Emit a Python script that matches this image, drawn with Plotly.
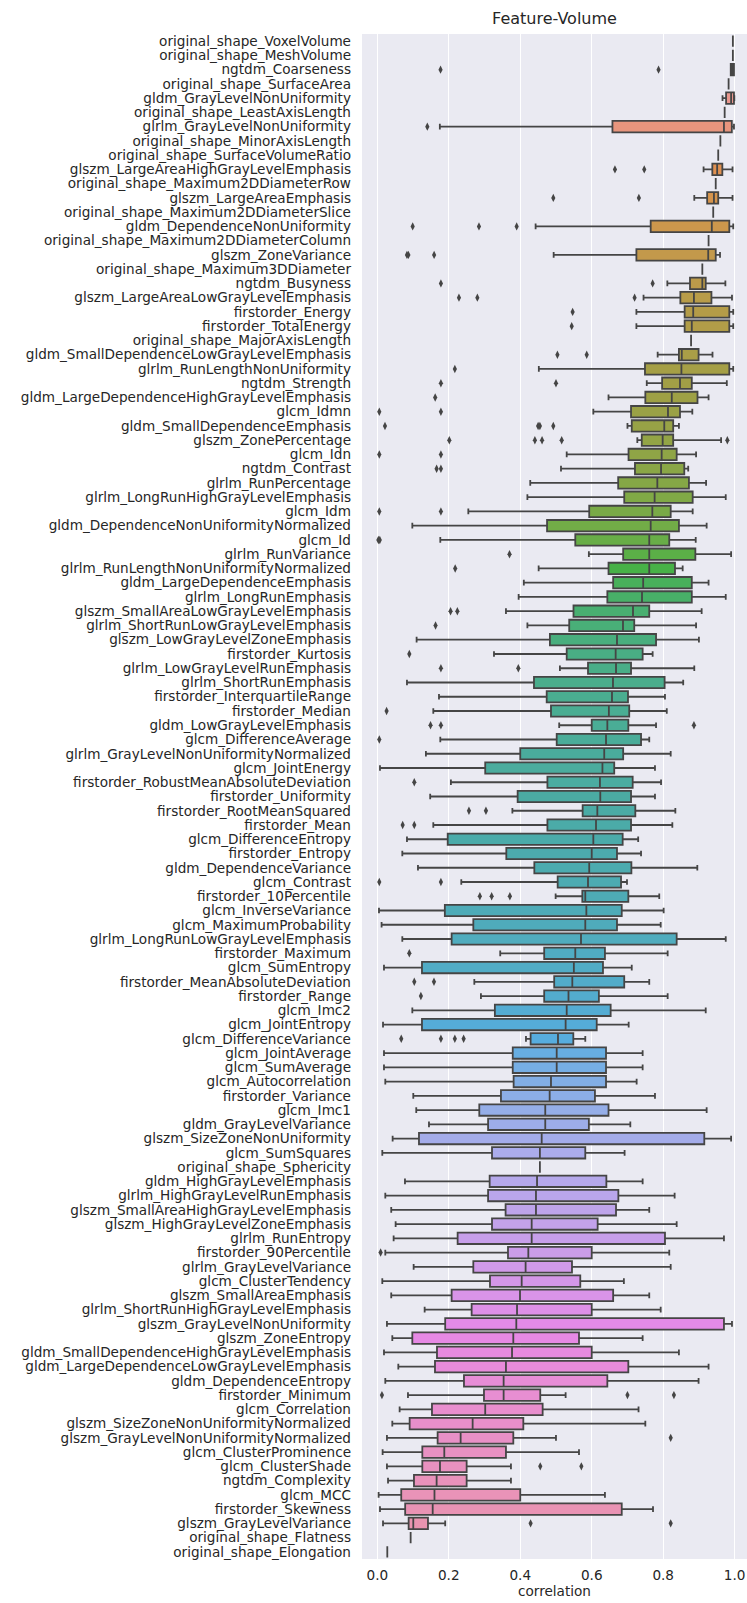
import math
import colorsys
import plotly.graph_objects as go

features = [
    "original_shape_VoxelVolume", "original_shape_MeshVolume", "ngtdm_Coarseness",
    "original_shape_SurfaceArea", "gldm_GrayLevelNonUniformity", "original_shape_LeastAxisLength",
    "glrlm_GrayLevelNonUniformity", "original_shape_MinorAxisLength", "original_shape_SurfaceVolumeRatio",
    "glszm_LargeAreaHighGrayLevelEmphasis", "original_shape_Maximum2DDiameterRow", "glszm_LargeAreaEmphasis",
    "original_shape_Maximum2DDiameterSlice", "gldm_DependenceNonUniformity", "original_shape_Maximum2DDiameterColumn",
    "glszm_ZoneVariance", "original_shape_Maximum3DDiameter", "ngtdm_Busyness",
    "glszm_LargeAreaLowGrayLevelEmphasis", "firstorder_Energy", "firstorder_TotalEnergy",
    "original_shape_MajorAxisLength", "gldm_SmallDependenceLowGrayLevelEmphasis", "glrlm_RunLengthNonUniformity",
    "ngtdm_Strength", "gldm_LargeDependenceHighGrayLevelEmphasis", "glcm_Idmn",
    "gldm_SmallDependenceEmphasis", "glszm_ZonePercentage", "glcm_Idn",
    "ngtdm_Contrast", "glrlm_RunPercentage", "glrlm_LongRunHighGrayLevelEmphasis",
    "glcm_Idm", "gldm_DependenceNonUniformityNormalized", "glcm_Id",
    "glrlm_RunVariance", "glrlm_RunLengthNonUniformityNormalized", "gldm_LargeDependenceEmphasis",
    "glrlm_LongRunEmphasis", "glszm_SmallAreaLowGrayLevelEmphasis", "glrlm_ShortRunLowGrayLevelEmphasis",
    "glszm_LowGrayLevelZoneEmphasis", "firstorder_Kurtosis", "glrlm_LowGrayLevelRunEmphasis",
    "glrlm_ShortRunEmphasis", "firstorder_InterquartileRange", "firstorder_Median",
    "gldm_LowGrayLevelEmphasis", "glcm_DifferenceAverage", "glrlm_GrayLevelNonUniformityNormalized",
    "glcm_JointEnergy", "firstorder_RobustMeanAbsoluteDeviation", "firstorder_Uniformity",
    "firstorder_RootMeanSquared", "firstorder_Mean", "glcm_DifferenceEntropy",
    "firstorder_Entropy", "gldm_DependenceVariance", "glcm_Contrast",
    "firstorder_10Percentile", "glcm_InverseVariance", "glcm_MaximumProbability",
    "glrlm_LongRunLowGrayLevelEmphasis", "firstorder_Maximum", "glcm_SumEntropy",
    "firstorder_MeanAbsoluteDeviation", "firstorder_Range", "glcm_Imc2",
    "glcm_JointEntropy", "glcm_DifferenceVariance", "glcm_JointAverage",
    "glcm_SumAverage", "glcm_Autocorrelation", "firstorder_Variance",
    "glcm_Imc1", "gldm_GrayLevelVariance", "glszm_SizeZoneNonUniformity",
    "glcm_SumSquares", "original_shape_Sphericity", "gldm_HighGrayLevelEmphasis",
    "glrlm_HighGrayLevelRunEmphasis", "glszm_SmallAreaHighGrayLevelEmphasis", "glszm_HighGrayLevelZoneEmphasis",
    "glrlm_RunEntropy", "firstorder_90Percentile", "glrlm_GrayLevelVariance",
    "glcm_ClusterTendency", "glszm_SmallAreaEmphasis", "glrlm_ShortRunHighGrayLevelEmphasis",
    "glszm_GrayLevelNonUniformity", "glszm_ZoneEntropy", "gldm_SmallDependenceHighGrayLevelEmphasis",
    "gldm_LargeDependenceLowGrayLevelEmphasis", "gldm_DependenceEntropy", "firstorder_Minimum",
    "glcm_Correlation", "glszm_SizeZoneNonUniformityNormalized", "glszm_GrayLevelNonUniformityNormalized",
    "glcm_ClusterProminence", "glcm_ClusterShade", "ngtdm_Complexity",
    "glcm_MCC", "firstorder_Skewness", "glszm_GrayLevelVariance",
    "original_shape_Flatness", "original_shape_Elongation",
]

lower_whisker = [
    0.995, 0.995, 0.989, 0.983, 0.966, 0.972, 0.175, 0.960, 0.954, 0.913,
    0.947, 0.887, 0.940, 0.443, 0.927, 0.4935, 0.9095, 0.8116, 0.745, 0.725,
    0.725, 0.878, 0.7845, 0.452, 0.754, 0.647, 0.6045, 0.700, 0.7276, 0.530,
    0.514, 0.428, 0.420, 0.2547, 0.098, 0.1763, 0.592, 0.4515, 0.410, 0.3955,
    0.360, 0.420, 0.110, 0.3265, 0.511, 0.083, 0.1726, 0.1567, 0.509, 0.1763,
    0.136, 0.0075, 0.206, 0.148, 0.378, 0.1567, 0.083, 0.070, 0.1138, 0.235,
    0.499, 0.0047, 0.012, 0.070, 0.344, 0.0187, 0.2715, 0.290, 0.098, 0.016,
    0.416, 0.0187, 0.0187, 0.0224, 0.1007, 0.109, 0.1446, 0.0429, 0.014, 0.455,
    0.0774, 0.0224, 0.039, 0.0513, 0.0457, 0.0224, 0.1017, 0.014, 0.039, 0.1325,
    0.027, 0.042, 0.0187, 0.0588, 0.0224, 0.0858, 0.0625, 0.042, 0.027, 0.0149,
    0.027, 0.030, 0.0037, 0.0075, 0.016, 0.0933, 0.028,
]

q1_vals = [
    0.995, 0.995, 0.989, 0.983, 0.976, 0.972, 0.658, 0.960, 0.954, 0.9375,
    0.947, 0.923, 0.940, 0.765, 0.927, 0.725, 0.9095, 0.875, 0.848, 0.860,
    0.860, 0.878, 0.844, 0.749, 0.797, 0.750, 0.710, 0.712, 0.740, 0.703,
    0.721, 0.674, 0.691, 0.593, 0.475, 0.554, 0.688, 0.647, 0.660, 0.6437,
    0.549, 0.537, 0.483, 0.530, 0.5896, 0.4384, 0.474, 0.486, 0.600, 0.502,
    0.400, 0.302, 0.476, 0.3927, 0.5746, 0.476, 0.197, 0.361, 0.4394, 0.5047,
    0.5737, 0.189, 0.2687, 0.208, 0.467, 0.125, 0.495, 0.467, 0.329, 0.125,
    0.429, 0.379, 0.379, 0.3815, 0.346, 0.2854, 0.310, 0.1166, 0.321, 0.455,
    0.3144, 0.310, 0.359, 0.321, 0.2248, 0.3657, 0.2687, 0.3153, 0.208, 0.264,
    0.190, 0.098, 0.167, 0.1614, 0.2425, 0.2985, 0.153, 0.0905, 0.1688, 0.126,
    0.126, 0.1026, 0.067, 0.078, 0.0877, 0.0933, 0.028,
]

median_vals = [
    0.995, 0.995, 0.994, 0.983, 0.990, 0.972, 0.970, 0.960, 0.954, 0.951,
    0.947, 0.942, 0.940, 0.936, 0.927, 0.926, 0.9095, 0.9095, 0.886, 0.884,
    0.880, 0.878, 0.852, 0.851, 0.847, 0.824, 0.8134, 0.803, 0.7985, 0.7957,
    0.794, 0.7836, 0.776, 0.7696, 0.765, 0.761, 0.761, 0.761, 0.744, 0.7407,
    0.7155, 0.6875, 0.6707, 0.667, 0.668, 0.6595, 0.6567, 0.648, 0.6437, 0.640,
    0.635, 0.630, 0.623, 0.624, 0.6157, 0.612, 0.6045, 0.600, 0.593, 0.5896,
    0.582, 0.585, 0.582, 0.570, 0.554, 0.550, 0.5457, 0.535, 0.530, 0.527,
    0.5056, 0.502, 0.502, 0.486, 0.4823, 0.470, 0.470, 0.460, 0.455, 0.455,
    0.447, 0.444, 0.444, 0.432, 0.432, 0.4226, 0.415, 0.404, 0.3993, 0.391,
    0.389, 0.3806, 0.377, 0.360, 0.3535, 0.3535, 0.302, 0.2668, 0.2332, 0.1875,
    0.1754, 0.166, 0.160, 0.155, 0.1007, 0.0933, 0.028,
]

q3_vals = [
    0.995, 0.995, 0.998, 0.983, 0.998, 0.972, 0.992, 0.960, 0.954, 0.9655,
    0.947, 0.954, 0.940, 0.985, 0.927, 0.947, 0.9095, 0.919, 0.935, 0.985,
    0.985, 0.878, 0.899, 0.985, 0.880, 0.896, 0.847, 0.828, 0.828, 0.8377,
    0.859, 0.872, 0.8825, 0.821, 0.844, 0.817, 0.890, 0.833, 0.880, 0.880,
    0.761, 0.719, 0.780, 0.7425, 0.710, 0.804, 0.7015, 0.705, 0.7024, 0.738,
    0.688, 0.663, 0.7146, 0.710, 0.722, 0.710, 0.6866, 0.6707, 0.711, 0.682,
    0.7024, 0.684, 0.6707, 0.8377, 0.637, 0.6315, 0.691, 0.620, 0.653, 0.614,
    0.5485, 0.640, 0.640, 0.640, 0.609, 0.647, 0.592, 0.915, 0.582, 0.455,
    0.641, 0.6745, 0.668, 0.6166, 0.805, 0.600, 0.5448, 0.568, 0.660, 0.600,
    0.970, 0.5644, 0.600, 0.7024, 0.6437, 0.456, 0.4627, 0.4086, 0.3806, 0.360,
    0.250, 0.250, 0.400, 0.684, 0.1418, 0.0933, 0.028,
]

upper_whisker = [
    0.995, 0.995, 0.998, 0.983, 0.999, 0.972, 0.998, 0.960, 0.954, 0.994,
    0.947, 0.994, 0.940, 0.996, 0.927, 0.959, 0.9095, 0.974, 0.9925, 0.996,
    0.996, 0.878, 0.938, 0.996, 0.978, 0.927, 0.8815, 0.844, 0.962, 0.892,
    0.870, 0.920, 0.975, 0.8825, 0.9216, 0.891, 0.990, 0.8545, 0.927, 0.975,
    0.9076, 0.892, 0.900, 0.7705, 0.887, 0.856, 0.805, 0.810, 0.780, 0.761,
    0.821, 0.777, 0.794, 0.777, 0.834, 0.8256, 0.730, 0.738, 0.8955, 0.6987,
    0.789, 0.8013, 0.793, 0.975, 0.8125, 0.712, 0.761, 0.8125, 0.919, 0.7034,
    0.582, 0.7425, 0.7425, 0.7257, 0.777, 0.9216, 0.708, 0.990, 0.692, 0.455,
    0.7425, 0.832, 0.761, 0.8377, 0.970, 0.817, 0.821, 0.690, 0.761, 0.793,
    0.9925, 0.7425, 0.844, 0.927, 0.899, 0.527, 0.731, 0.750, 0.500, 0.5644,
    0.374, 0.374, 0.637, 0.7715, 0.190, 0.0933, 0.028,
]

outlier_values = [
    [], [], [0.177, 0.787], [], [], [], [0.14], [], [], [0.665, 0.747],
    [], [0.4925, 0.732], [], [0.099, 0.2845, 0.39], [], [0.083, 0.087, 0.159], [], [0.178, 0.7705], [0.2285, 0.28, 0.72], [0.5466],
    [0.544], [], [0.504, 0.586], [0.217], [0.178, 0.5], [0.162], [0.0056, 0.178], [0.0215, 0.45, 0.455, 0.4925], [0.2015, 0.441, 0.461, 0.516, 0.9795], [0.0056, 0.178],
    [0.166, 0.178], [], [], [0.0056, 0.178], [], [0.003, 0.007], [0.37], [0.218], [], [],
    [0.205, 0.224], [0.163], [], [0.0896], [0.178, 0.3946], [], [], [0.026], [0.149, 0.178, 0.886], [0.0056],
    [], [], [0.1035], [], [0.2565, 0.304], [0.071, 0.1035], [], [], [], [0.0056, 0.178],
    [0.287, 0.32, 0.371], [], [], [], [0.0896], [], [0.1035, 0.1586], [0.122], [], [],
    [0.067, 0.178, 0.217, 0.2416], [], [], [], [], [], [], [], [], [],
    [], [], [], [], [], [0.0093], [], [], [], [],
    [], [], [], [], [], [0.013, 0.70, 0.830], [], [], [0.821], [],
    [0.456, 0.571], [], [], [], [0.429, 0.821], [], [],
]

x_ticks = [0.0, 0.2, 0.4, 0.6, 0.8, 1.0]
x_tick_text = ["0.0", "0.2", "0.4", "0.6", "0.8", "1.0"]

# ---- seaborn-like husl palette (l=.7) desaturated to 0.75 ----
_M = [[3.2406, -1.5372, -0.4986], [-0.9689, 1.8758, 0.0415], [0.0557, -0.2040, 1.0570]]


def _max_chroma(L, H):
    hrad = math.radians(H)
    sinH, cosH = math.sin(hrad), math.cos(hrad)
    sub1 = (L + 16) ** 3 / 1560896.0
    sub2 = sub1 if sub1 > 0.008856 else L / 903.3
    result = float("inf")
    for m1, m2, m3 in _M:
        top = (0.99915 * m1 + 1.05122 * m2 + 1.14460 * m3) * sub2
        rbottom = 0.86330 * m3 - 0.17266 * m2
        lbottom = 0.12949 * m3 - 0.38848 * m1
        bottom = (rbottom * sinH + lbottom * cosH) * sub2
        for t in (0.0, 1.0):
            C = L * (top - 1.05122 * t) / (bottom + 0.17266 * sinH * t)
            if 0.0 < C < result:
                result = C
    return result


def _husl_to_rgb(h, s, l):
    C = _max_chroma(l, h) / 100.0 * s
    hrad = math.radians(h)
    U, V = math.cos(hrad) * C, math.sin(hrad) * C
    t = (l + 16.0) / 116.0
    varY = t ** 3 if t ** 3 > 0.008856 else (116.0 * t - 16.0) / 903.3
    varU = U / (13.0 * l) + 0.19784
    varV = V / (13.0 * l) + 0.46834
    Y = varY
    X = 0 - (9 * Y * varU) / ((varU - 4.0) * varV - varU * varV)
    Z = (9.0 * Y - (15.0 * varV * Y) - (varV * X)) / (3.0 * varV)
    out = []
    for r in _M:
        c = r[0] * X + r[1] * Y + r[2] * Z
        c = 12.92 * c if c <= 0.0031308 else 1.055 * c ** (1 / 2.4) - 0.055
        out.append(min(max(c, 0.0), 1.0))
    return out


n = len(features)
colors_rgb = []
for i in range(n):
    hue = ((i / n) + 0.01) % 1 * 359
    r, g, b = _husl_to_rgb(hue, 0.9 * 99, 0.7 * 99)
    hh, ll, ss = colorsys.rgb_to_hls(r, g, b)
    colors_rgb.append(colorsys.hls_to_rgb(hh, ll, ss * 0.75))

lum = min(colorsys.rgb_to_hls(*c)[1] for c in colors_rgb) * 0.6
gray = "rgb({0},{0},{0})".format(int(round(lum * 255)))


def _css(c):
    return "rgb({},{},{})".format(*[int(round(v * 255)) for v in c])


fig = go.Figure()
for i, name in enumerate(features):
    fig.add_trace(go.Box(
        y=[name], q1=[q1_vals[i]], median=[median_vals[i]], q3=[q3_vals[i]],
        lowerfence=[lower_whisker[i]], upperfence=[upper_whisker[i]],
        orientation="h", width=0.8, whiskerwidth=0.5,
        fillcolor=_css(colors_rgb[i]), line=dict(color=gray, width=1.8),
        boxpoints=False, showlegend=False, hoverinfo="skip",
    ))

ox, oy = [], []
for name, vals in zip(features, outlier_values):
    for v in vals:
        ox.append(v)
        oy.append(name)
fig.add_trace(go.Scatter(
    x=ox, y=oy, mode="markers", showlegend=False, hoverinfo="skip",
    marker=dict(symbol="diamond-tall", size=6, color=gray, line=dict(width=0)),
))

font_color = "#262626"
fig.update_layout(
    width=747, height=1603,
    margin=dict(l=362, r=0, t=34, b=44, pad=0),
    paper_bgcolor="white", plot_bgcolor="#EAEAF2",
    boxmode="overlay",
    font=dict(family="DejaVu Sans", size=13.6, color=font_color),
    title=dict(text="Feature-Volume", x=0.5, xref="paper", xanchor="center",
               y=1 - 18 / 1603, yref="container", yanchor="middle",
               font=dict(size=16, color=font_color)),
)
fig.update_xaxes(
    range=[-0.0428, 1.0345], tickmode="array", tickvals=x_ticks, ticktext=x_tick_text,
    showgrid=True, gridcolor="white", gridwidth=1.3, zeroline=False,
    showline=False, ticks="", ticklabelstandoff=6, ticklabeloverflow="allow",
    title=dict(text="correlation", standoff=4, font=dict(size=13.6, color=font_color)),
)
fig.update_yaxes(
    type="category", categoryorder="array", categoryarray=features,
    tickmode="array", tickvals=features, ticktext=features,
    range=[n - 0.5, -0.5], showgrid=False, zeroline=False, showline=False,
    ticks="", ticklabelstandoff=10,
)

# remove the browser's default 8px body margin so the figure fills the window exactly
fig.write_html(
    "out.html",
    config={"displayModeBar": False},
    post_script="document.body.style.margin='0';document.documentElement.style.overflow='hidden';",
)
